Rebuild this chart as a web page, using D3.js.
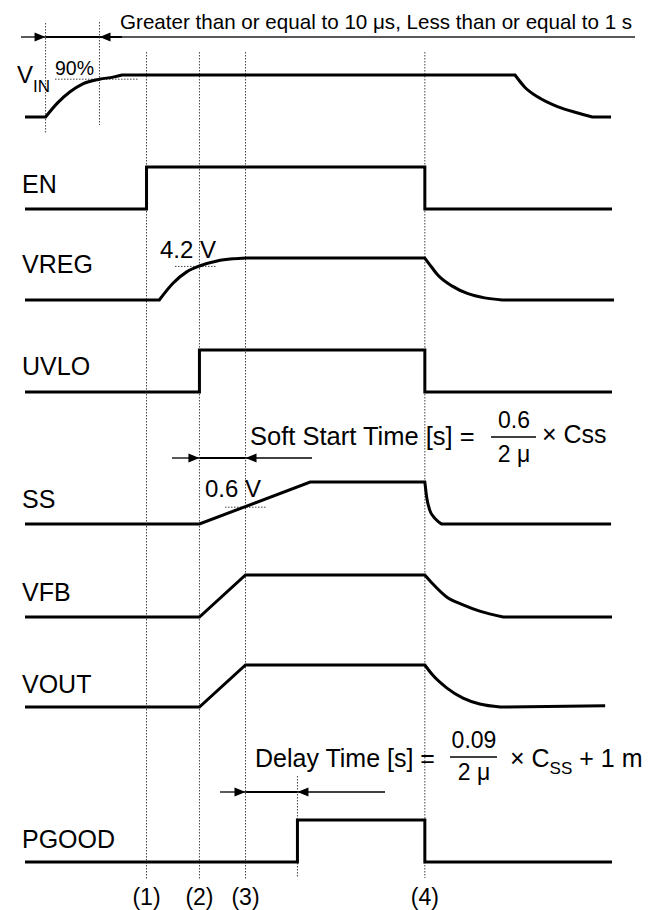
<!DOCTYPE html>
<html><head><meta charset="utf-8">
<script src="https://cdn.jsdelivr.net/npm/d3@7"></script>
<style>
html,body{margin:0;padding:0;background:#fff;}
svg{display:block;}
text{font-family:"Liberation Sans",Arial,sans-serif;fill:#000;}
</style>
</head><body><div id="chart"></div>
<script>
// ---------- DATA ----------
const signalNames = ["VIN","EN","VREG","UVLO","SS","VFB","VOUT","PGOOD"];
const markerLabels = ["(1)","(2)","(3)","(4)"];
const markerTimes = [12.4, 17.8, 22.5, 40.8];
const vinStartTime = 2.1, vin90Time = 7.6, pgoodRiseTime = 27.8;
const topNote = "Greater than or equal to 10 μs, Less than or equal to 1 s";
const vinThresholdLabel = "90%";
const vregThresholdLabel = "4.2 V";
const ssThresholdLabel = "0.6 V";
const softStartLabel = "Soft Start Time [s] =";
const softStartNum = "0.6", softStartDen = "2 μ", softStartTail = "× Css";
const delayLabel = "Delay Time [s] =";
const delayNum = "0.09", delayDen = "2 μ";

// waveforms: segments of [time, level]; c = curved segment
const vinWave = [
  {c:false, p:[[0,0],[2.1,0]]},
  {c:true,  p:[[2.1,0],[3.3,0.33],[4.6,0.6],[5.9,0.79],[7.6,0.9],[9.0,0.95],[9.9,1]]},
  {c:false, p:[[9.9,1],[50.0,1]]},
  {c:true,  p:[[50.0,1],[51.0,0.71],[52.3,0.48],[54.4,0.24],[56.4,0.095],[57.9,0]]},
  {c:false, p:[[57.9,0],[59.8,0]]}
];
const enWave = [{c:false, p:[[0,0],[12.4,0],[12.4,1],[40.8,1],[40.8,0],[59.9,0]]}];
const vregWave = [
  {c:false, p:[[0,0],[13.7,0]]},
  {c:true,  p:[[13.7,0],[15.1,0.4],[16.5,0.67],[17.8,0.81],[19.6,0.93],[21.2,0.98],[22.6,1]]},
  {c:false, p:[[22.6,1],[40.8,1]]},
  {c:true,  p:[[40.8,1],[41.5,0.78],[42.1,0.6],[43.6,0.33],[45.2,0.15],[46.9,0.05],[48.7,0]]},
  {c:false, p:[[48.7,0],[60.1,0]]}
];
const uvloWave = [{c:false, p:[[0,0],[17.8,0],[17.8,1],[40.8,1],[40.8,0],[59.9,0]]}];
const ssWave = [
  {c:false, p:[[0,0],[17.8,0],[29.1,1],[40.8,1]]},
  {c:true,  p:[[40.8,1],[41.0,0.62],[41.3,0.33],[41.8,0.14],[42.2,0.05],[42.5,0]]},
  {c:false, p:[[42.5,0],[59.8,0]]}
];
const vfbWave = [
  {c:false, p:[[0,0],[17.8,0],[22.5,1],[40.8,1]]},
  {c:true,  p:[[40.8,1],[41.6,0.79],[43.06,0.47],[44.7,0.29],[46.4,0.14],[48.8,0]]},
  {c:false, p:[[48.8,0],[59.9,0]]}
];
const voutWave = [
  {c:false, p:[[0,0],[17.8,0],[22.5,1],[40.8,1]]},
  {c:true,  p:[[40.8,1],[41.6,0.76],[43.06,0.45],[44.7,0.21],[46.4,0.07],[48.5,0]]},
  {c:false, p:[[48.5,0],[59.2,0.03]]}
];
const pgoodWave = [{c:false, p:[[0,0],[27.8,0],[27.8,1],[40.8,1],[40.8,0],[59.9,0]]}];
const waves = [vinWave, enWave, vregWave, uvloWave, ssWave, vfbWave, voutWave, pgoodWave];

// ---------- LAYOUT ----------
const W = 650, H = 910;
const rowLow = [117, 209, 300, 392, 524, 617, 707, 862];
const labelBase = [83, 193, 273, 375, 508, 601, 693, 848];
const x = d3.scaleLinear().domain([0, 60]).range([25, 613]);
const lvl = d3.scaleLinear().domain([0, 1]).range([0, -42]);

const svg = d3.select("#chart").append("svg").attr("width", W).attr("height", H);

// dotted guides
const dot = (x1, y1, x2, y2) => svg.append("line")
  .attr("x1", x1).attr("y1", y1).attr("x2", x2).attr("y2", y2)
  .attr("stroke", "#444").attr("stroke-width", 1).attr("stroke-dasharray", "1.5,1.5");
markerTimes.forEach((t, i) => dot(x(t), 52, x(t), i === 3 ? 878 : 880));
dot(x(pgoodRiseTime), 776, x(pgoodRiseTime), 877);
dot(x(vinStartTime), 23, x(vinStartTime), 133);
dot(x(vin90Time), 22, x(vin90Time), 125);
dot(55, rowLow[0] + lvl(0.9), 138, rowLow[0] + lvl(0.9));
dot(175, rowLow[2] + lvl(0.8), 217, rowLow[2] + lvl(0.8));
dot(225, rowLow[4] + lvl(0.4), 267, rowLow[4] + lvl(0.4));

// waveforms
waves.forEach((segs, i) => {
  const base = rowLow[i];
  let d = "";
  segs.forEach((s, k) => {
    const gen = d3.line().x(p => x(p[0])).y(p => base + lvl(p[1]))
      .curve(s.c ? d3.curveMonotoneX : d3.curveLinear);
    let part = gen(s.p);
    if (k > 0) part = "L" + part.slice(1);
    d += part;
  });
  svg.append("path").attr("d", d).attr("fill", "none")
    .attr("stroke", "#000").attr("stroke-width", 3).attr("stroke-linejoin", "miter");
});

// labels
signalNames.forEach((n, i) => {
  if (i === 0) {
    const t = svg.append("text").attr("x", 17).attr("y", labelBase[0]).attr("font-size", 24);
    t.append("tspan").text("V");
    t.append("tspan").attr("font-size", 17).attr("dy", 9).text("IN");
  } else {
    svg.append("text").attr("x", 22).attr("y", labelBase[i]).attr("font-size", 25).text(n);
  }
});

// marker labels
markerTimes.forEach((t, i) => svg.append("text").attr("x", x(t)).attr("y", 905)
  .attr("text-anchor", "middle").attr("font-size", 23).text(markerLabels[i]));

// threshold labels
svg.append("text").attr("x", 55).attr("y", 75).attr("font-size", 19.5).text(vinThresholdLabel);
svg.append("text").attr("x", 160).attr("y", 258).attr("font-size", 24).text(vregThresholdLabel);
svg.append("text").attr("x", 205).attr("y", 497).attr("font-size", 24).text(ssThresholdLabel);

// arrows
function head(xt, y, dir) {
  svg.append("path").attr("d", `M${xt},${y}L${xt - dir * 11},${y - 4.5}L${xt - dir * 11},${y + 4.5}Z`).attr("fill", "#000");
}
function hl(x1, x2, y, w, c) {
  svg.append("line").attr("x1", x1).attr("x2", x2).attr("y1", y).attr("y2", y)
    .attr("stroke", c || "#000").attr("stroke-width", w);
}
function dimArrow(xa, xb, y, leftStart, rightEnd, c) {
  hl(leftStart, xa, y, 1.3);
  head(xa, y, 1);
  hl(xa, xb, y, 2);
  head(xb, y, -1);
  hl(xb, rightEnd, y, 1.3, c);
}
dimArrow(x(vinStartTime), x(vin90Time), 37, 21, 635, "#222");
hl(x(vin90Time), 122, 37, 2);
dimArrow(x(markerTimes[1]), x(markerTimes[2]), 458, 172, 312);
dimArrow(x(markerTimes[2]), x(pgoodRiseTime), 792, 220, 385);

// top note
svg.append("text").attr("x", 120).attr("y", 29).attr("font-size", 20.6).text(topNote);

// soft start formula
svg.append("text").attr("x", 250).attr("y", 445).attr("font-size", 25.5).text(softStartLabel);
svg.append("text").attr("x", 514).attr("y", 428).attr("text-anchor", "middle").attr("font-size", 23).text(softStartNum);
hl(491, 536, 437, 1.6);
svg.append("text").attr("x", 514).attr("y", 462).attr("text-anchor", "middle").attr("font-size", 23).text(softStartDen);
svg.append("text").attr("x", 542).attr("y", 443).attr("font-size", 25).text(softStartTail);

// delay formula
svg.append("text").attr("x", 255).attr("y", 767).attr("font-size", 25).text(delayLabel);
svg.append("text").attr("x", 474).attr("y", 748).attr("text-anchor", "middle").attr("font-size", 23).text(delayNum);
hl(450, 497, 757, 1.6);
svg.append("text").attr("x", 474).attr("y", 780).attr("text-anchor", "middle").attr("font-size", 23).text(delayDen);
const dt = svg.append("text").attr("x", 510).attr("y", 767).attr("font-size", 25);
dt.append("tspan").text("× C");
dt.append("tspan").attr("font-size", 17).attr("dy", 7).text("SS");
dt.append("tspan").attr("dy", -7).text(" + 1 m");
</script>
</body></html>
